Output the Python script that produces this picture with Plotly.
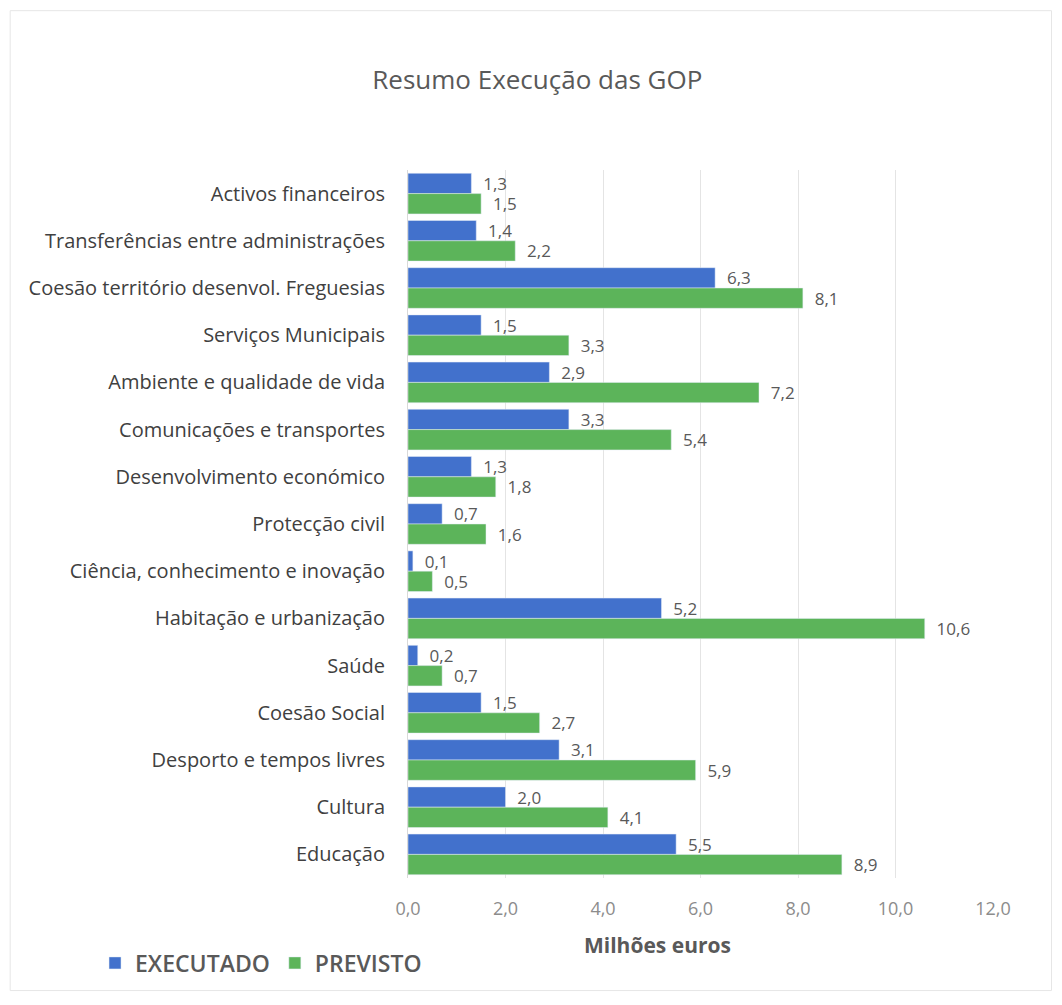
import plotly.graph_objects as go

categories = [
    "Activos financeiros",
    "Transferências entre administrações",
    "Coesão território desenvol. Freguesias",
    "Serviços Municipais",
    "Ambiente e qualidade de vida",
    "Comunicações e transportes",
    "Desenvolvimento económico",
    "Protecção civil",
    "Ciência, conhecimento e inovação",
    "Habitação e urbanização",
    "Saúde",
    "Coesão Social",
    "Desporto e tempos livres",
    "Cultura",
    "Educação",
]
executado = [1.3, 1.4, 6.3, 1.5, 2.9, 3.3, 1.3, 0.7, 0.1, 5.2, 0.2, 1.5, 3.1, 2.0, 5.5]
previsto = [1.5, 2.2, 8.1, 3.3, 7.2, 5.4, 1.8, 1.6, 0.5, 10.6, 0.7, 2.7, 5.9, 4.1, 8.9]
x_ticks = [0, 2, 4, 6, 8, 10, 12]

FONT = "Open Sans"
GREY = "#595959"

fig = go.Figure()
fig.add_trace(go.Bar(
    name="EXECUTADO", y=categories, x=executado, orientation="h",
    marker=dict(color="#4271CC"),
    texttemplate="  %{x:.1f}", textposition="outside", cliponaxis=False,
    constraintext="none",
    textfont=dict(family=FONT, size=17, color=GREY),
))
fig.add_trace(go.Bar(
    name="PREVISTO", y=categories, x=previsto, orientation="h",
    marker=dict(color="#5CB45A"),
    texttemplate="  %{x:.1f}", textposition="outside", cliponaxis=False,
    constraintext="none",
    textfont=dict(family=FONT, size=17, color=GREY),
))

fig.update_layout(
    width=1046, height=989,
    paper_bgcolor="white", plot_bgcolor="white",
    separators=",.",
    barmode="group", bargap=0.14, bargroupgap=0,
    margin=dict(l=400, r=61, t=162, b=115),
    font=dict(family=FONT, size=18, color=GREY),
    title=dict(text="Resumo Execução das GOP", x=0.506, xanchor="center",
               y=0.927, yanchor="middle",
               font=dict(family=FONT, size=26, color=GREY)),
    xaxis=dict(range=[0, 12], tickvals=x_ticks, tickformat=".1f",
               showgrid=True, gridcolor="#E4E4E4", gridwidth=1,
               zeroline=False, showline=False, ticks="",
               ticklabelstandoff=18,
               tickfont=dict(family=FONT, size=18, color="#8C8C8C")),
    yaxis=dict(autorange="reversed", showgrid=False, showline=True,
               linecolor="#D9D9D9", ticks="", ticklabelstandoff=18,
               tickfont=dict(family=FONT, size=20, color="#404040")),
    legend=dict(orientation="h", x=-0.535, xanchor="left", y=-0.12,
                yanchor="middle",
                font=dict(family=FONT, size=23, color=GREY, weight=600),
                itemwidth=30, traceorder="normal"),
    annotations=[dict(text="<b>Milhões euros</b>", xref="paper", yref="paper",
                      x=0.426, y=-0.095, xanchor="center", yanchor="middle",
                      showarrow=False,
                      font=dict(family=FONT, size=21, color=GREY))],
    shapes=[dict(type="rect", xref="paper", yref="paper",
                 x0=-0.68, x1=1.10, y0=-0.159, y1=1.225,
                 line=dict(color="#E6E6E6", width=1))],
)

fig.write_html("out.html")
